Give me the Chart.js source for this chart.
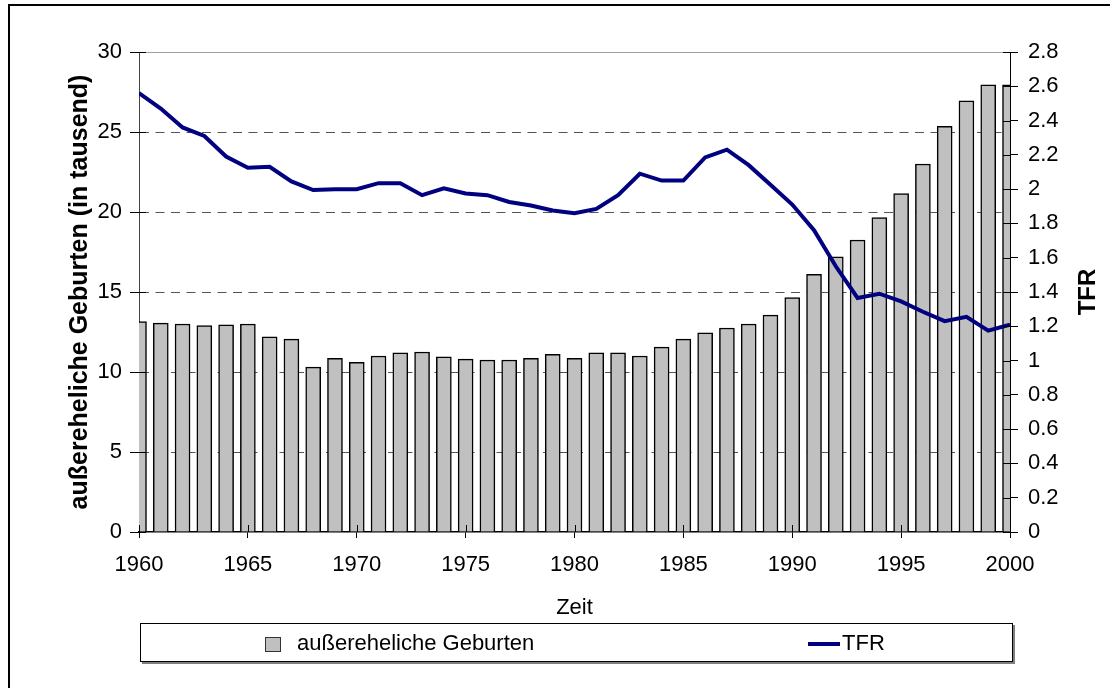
<!DOCTYPE html>
<html>
<head>
<meta charset="utf-8">
<script src="https://cdn.jsdelivr.net/npm/chart.js@4.4.1/dist/chart.umd.min.js"></script>
<style>
html,body{margin:0;padding:0;background:#fff;}
#wrap{width:1110px;height:688px;position:relative;}
</style>
</head>
<body>
<div id="wrap"><canvas id="c" width="1110" height="688"></canvas></div>
<script>
// ---- data ----
const years = [1960,1961,1962,1963,1964,1965,1966,1967,1968,1969,
               1970,1971,1972,1973,1974,1975,1976,1977,1978,1979,
               1980,1981,1982,1983,1984,1985,1986,1987,1988,1989,
               1990,1991,1992,1993,1994,1995,1996,1997,1998,1999,2000];
// außereheliche Geburten (in tausend)
const births = [13.15,13.05,13.0,12.9,12.95,13.0,12.2,12.05,10.3,10.85,
                10.6,11.0,11.2,11.25,10.95,10.8,10.75,10.75,10.85,11.1,
                10.85,11.2,11.2,11.0,11.55,12.05,12.45,12.75,13.0,13.55,
                14.65,16.1,17.2,18.25,19.65,21.15,23.0,25.35,26.95,27.95,27.95];
// TFR
const tfr = [2.56,2.47,2.36,2.31,2.19,2.125,2.13,2.045,1.995,2.0,
             2.0,2.035,2.035,1.965,2.005,1.975,1.965,1.925,1.905,1.875,
             1.86,1.885,1.965,2.09,2.05,2.05,2.185,2.23,2.14,2.025,
             1.91,1.76,1.55,1.365,1.39,1.345,1.285,1.23,1.255,1.175,1.21];

const xTicks = [1960,1965,1970,1975,1980,1985,1990,1995,2000];
const xTickLabels = ['1960','1965','1970','1975','1980','1985','1990','1995','2000'];
const leftTicks = [0,5,10,15,20,25,30];
const leftTickLabels = ['0','5','10','15','20','25','30'];
const rightTicks = [0,0.2,0.4,0.6,0.8,1,1.2,1.4,1.6,1.8,2,2.2,2.4,2.6,2.8];
const rightTickLabels = ['0','0.2','0.4','0.6','0.8','1','1.2','1.4','1.6','1.8','2','2.2','2.4','2.6','2.8'];

const seriesLabels = ['außereheliche Geburten','TFR'];
const leftTitle = 'außereheliche Geburten (in tausend)';
const rightTitle = 'TFR';
const xTitle = 'Zeit';

// ---- chart ----
const FONT = "'Liberation Sans', Arial, Helvetica, sans-serif";
Chart.defaults.font.family = FONT;
Chart.defaults.color = '#000';

function setTicks(arr){ return s => { s.ticks = arr.map(v => ({value:v})); }; }

const framePlugin = {
  id:'frameLegend',
  beforeDraw(chart){
    const ctx = chart.ctx;
    ctx.save();
    ctx.fillStyle = '#fff';
    ctx.fillRect(0,0,chart.width,chart.height);
    ctx.strokeStyle = '#000';
    ctx.lineWidth = 2;
    ctx.beginPath();
    ctx.moveTo(9, chart.height);
    ctx.lineTo(9, 5);
    ctx.lineTo(chart.width, 5);
    ctx.stroke();
    ctx.restore();
  },
  afterDraw(chart){
    const ctx = chart.ctx;
    // cross tick marks (inner halves)
    const {x, y, y2} = chart.scales;
    ctx.save();
    ctx.strokeStyle = '#000';
    ctx.lineWidth = 1;
    ctx.beginPath();
    x.ticks.forEach(t => { const p = Math.round(x.getPixelForValue(t.value)) + 0.5; ctx.moveTo(p, x.top); ctx.lineTo(p, x.top - 7); });
    y.ticks.forEach(t => { const p = Math.round(y.getPixelForValue(t.value)) + 0.5; ctx.moveTo(y.right, p); ctx.lineTo(y.right + 7, p); });
    y2.ticks.forEach(t => { const p = Math.round(y2.getPixelForValue(t.value)) + 0.5; ctx.moveTo(y2.left, p); ctx.lineTo(y2.left - 7, p); });
    ctx.stroke();

    // secondary axis title, rotated upward like the primary one
    ctx.save();
    ctx.translate(1088, (chart.chartArea.top + chart.chartArea.bottom) / 2);
    ctx.rotate(-Math.PI / 2);
    ctx.font = "bold 24px " + FONT;
    ctx.fillStyle = '#000';
    ctx.textAlign = 'center';
    ctx.textBaseline = 'middle';
    ctx.fillText(rightTitle, 0, 0);
    ctx.restore();

    // legend box
    const L = 140, T = 623, R = 1013, B = 662;
    ctx.fillStyle = '#fff';
    ctx.fillRect(L, T, R - L, B - T);
    ctx.strokeStyle = '#808080';
    ctx.lineWidth = 2;
    ctx.beginPath();
    ctx.moveTo(R + 1, T + 2); ctx.lineTo(R + 1, B + 1); ctx.lineTo(L + 2, B + 1);
    ctx.stroke();
    ctx.strokeStyle = '#000';
    ctx.lineWidth = 1;
    ctx.strokeRect(L + 0.5, T + 0.5, R - L - 1, B - T - 1);

    const ds = chart.data.datasets;
    const cy = 644;
    // bar item
    ctx.fillStyle = ds[0].backgroundColor;
    ctx.fillRect(265, cy - 7, 16, 15);
    ctx.strokeStyle = '#333';
    ctx.lineWidth = 1;
    ctx.strokeRect(265.5, cy - 6.5, 15, 14);
    ctx.fillStyle = '#000';
    ctx.font = "22px " + FONT;
    ctx.textBaseline = 'middle';
    ctx.textAlign = 'left';
    ctx.fillText(ds[0].label, 297, cy);
    // line item
    ctx.strokeStyle = ds[1].borderColor;
    ctx.lineWidth = 4;
    ctx.beginPath(); ctx.moveTo(808, cy); ctx.lineTo(840, cy); ctx.stroke();
    ctx.fillText(ds[1].label, 842, cy);
    ctx.restore();
  }
};

new Chart(document.getElementById('c'), {
  type:'bar',
  data:{
    datasets:[
      {
        type:'bar',
        label: seriesLabels[0],
        data: years.map((yr,i) => ({x:yr, y:births[i]})),
        backgroundColor:'#c0c0c0',
        borderColor:'#000',
        borderWidth:1.5,
        borderSkipped:'bottom',
        barThickness:15,
        yAxisID:'y',
        xAxisID:'x',
        order:1
      },
      {
        type:'line',
        label: seriesLabels[1],
        data: years.map((yr,i) => ({x:yr, y:tfr[i]})),
        borderColor:'#000080',
        backgroundColor:'#000080',
        borderWidth:4,
        pointRadius:0,
        tension:0,
        fill:false,
        yAxisID:'y2',
        xAxisID:'x',
        order:0
      }
    ]
  },
  options:{
    responsive:false,
    animation:false,
    events:[],
    layout:{padding:{left:0, right:0, top:52, bottom:0}},
    plugins:{legend:{display:false}, tooltip:{enabled:false}},
    scales:{
      x:{
        type:'linear', position:'bottom', min:1960, max:2000, offset:false,
        afterBuildTicks: setTicks(xTicks),
        ticks:{font:{size:22}, color:'#000', padding:14, maxRotation:0, autoSkip:false,
               callback:(v,i) => xTickLabels[i]},
        grid:{drawOnChartArea:false, offset:false, tickLength:6, tickColor:'#000', tickWidth:1},
        border:{color:'#000', width:1.5},
        title:{display:true, text:xTitle, font:{size:22}, color:'#000', padding:{top:0, bottom:67}},
        afterFit: s => { s.height = 156; s.paddingLeft = 0; s.paddingRight = 0; }
      },
      y:{
        type:'linear', position:'left', min:0, max:30,
        afterBuildTicks: setTicks(leftTicks),
        ticks:{font:{size:22}, color:'#000', padding:8, autoSkip:false,
               callback:(v,i) => leftTickLabels[i]},
        grid:{
          color: c => (c.tick && c.tick.value === 30) ? '#a0a0a0' : ((c.tick && c.tick.value === 0) ? 'rgba(0,0,0,0)' : '#555'),
          lineWidth:1, tickLength:9, tickColor:'#000', tickWidth:1
        },
        border:{color:'#444', width:1, dash: c => (c.tick && c.tick.value !== 30) ? [9,6.5] : []},
        title:{display:true, text:leftTitle, font:{size:25, weight:'bold'}, color:'#000', padding:{top:65, bottom:0}},
        afterFit: s => { s.width = 139; s.paddingTop = 0; s.paddingBottom = 0; }
      },
      y2:{
        type:'linear', position:'right', min:0, max:2.8,
        afterBuildTicks: setTicks(rightTicks),
        ticks:{font:{size:22}, color:'#000', padding:10, autoSkip:false,
               callback:(v,i) => rightTickLabels[i]},
        grid:{drawOnChartArea:false, tickLength:8, tickColor:'#000', tickWidth:1},
        border:{color:'#000', width:1},
        title:{display:false, text:rightTitle},
        afterFit: s => { s.width = 100; s.paddingTop = 0; s.paddingBottom = 0; }
      }
    }
  },
  plugins:[framePlugin]
});
</script>
</body>
</html>
